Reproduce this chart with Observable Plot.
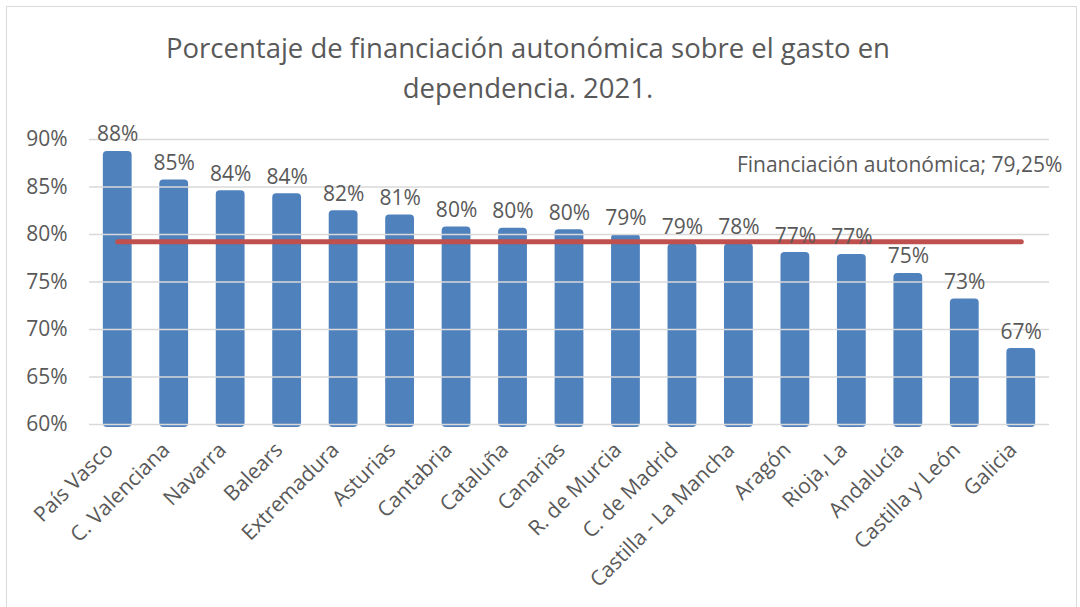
<!DOCTYPE html>
<html>
<head>
<meta charset="utf-8">
<script src="https://cdn.jsdelivr.net/npm/d3@7"></script>
<script src="https://cdn.jsdelivr.net/npm/@observablehq/plot@0.6"></script>
<style>
  html, body { margin: 0; padding: 0; background: #fff; }
  body { width: 1080px; height: 607px; overflow: hidden; position: relative; font-family: "Open Sans", sans-serif; }
  #frame { position: absolute; left: 6px; top: 6px; width: 1069px; height: 640px; border: 1.5px solid #d9d9d9; pointer-events: none; }
  #title { height: 110px; box-sizing: border-box; padding-top: 28px; padding-right: 24px; text-align: center; color: #595959; font-size: 27.5px; line-height: 40px; }
</style>
</head>
<body>
<div id="title">Porcentaje de financiación autonómica sobre el gasto en<br>dependencia. 2021.</div>
<div id="chart"></div>
<div id="frame"></div>
<script>
const categories = ["País Vasco", "C. Valenciana", "Navarra", "Balears", "Extremadura", "Asturias", "Cantabria", "Cataluña", "Canarias", "R. de Murcia", "C. de Madrid", "Castilla - La Mancha", "Aragón", "Rioja, La", "Andalucía", "Castilla y León", "Galicia"];
const values = [88.75, 85.75, 84.6, 84.3, 82.5, 82.05, 80.8, 80.65, 80.5, 80.0, 79.0, 79.0, 78.1, 77.9, 75.9, 73.2, 68.0];
const valueLabels = ["88%", "85%", "84%", "84%", "82%", "81%", "80%", "80%", "80%", "79%", "79%", "78%", "77%", "77%", "75%", "73%", "67%"];
const average = 79.25;
const averageLabel = "Financiación autonómica; 79,25%";
const yTicks = [60, 65, 70, 75, 80, 85, 90];

const data = categories.map((c, i) => ({ c, v: values[i], l: valueLabels[i], a: average }));
const lastCategory = categories[categories.length - 1];

const textColor = "#595959";
const chart = Plot.plot({
  width: 1080,
  height: 497,
  marginTop: 29,
  marginBottom: 183,
  marginLeft: 89,
  marginRight: 31,
  style: { fontFamily: "Open Sans, sans-serif", color: textColor, background: "#fff", overflow: "visible" },
  x: { domain: categories, paddingInner: 0.49, paddingOuter: 0.245, round: false, label: null },
  y: { domain: [60, 90], ticks: yTicks, label: null },
  marks: [
    Plot.barY(data, { x: "c", y1: 60, y2: "v", fill: "#4f81bd", insetBottom: -3, rx: 4 }),
    Plot.gridY(yTicks, { stroke: "#d9d9d9", strokeOpacity: 1, strokeWidth: 1.5 }),
    Plot.axisY({ ticks: yTicks, tickSize: 0, tickPadding: 22, tickFormat: d => d + "%", fontSize: 21, fill: textColor, label: null }),
    Plot.axisX({ tickSize: 0, tickPadding: 22, dx: -8, tickRotate: -45, fontSize: 21, fill: textColor, label: null }),
    Plot.lineY(data, { x: "c", y: "a", stroke: "#c0504d", strokeWidth: 5, strokeLinecap: "round" }),
    Plot.text(data, { x: "c", y: "v", text: "l", lineAnchor: "bottom", dy: -10, fontSize: 21, fill: textColor }),
    Plot.text(data.filter(d => d.c === lastCategory), { x: "c", y: "a", text: () => averageLabel, textAnchor: "end", dx: 41, dy: -76, fontSize: 21, fill: textColor })
  ]
});
document.getElementById("chart").appendChild(chart);
</script>
</body>
</html>
